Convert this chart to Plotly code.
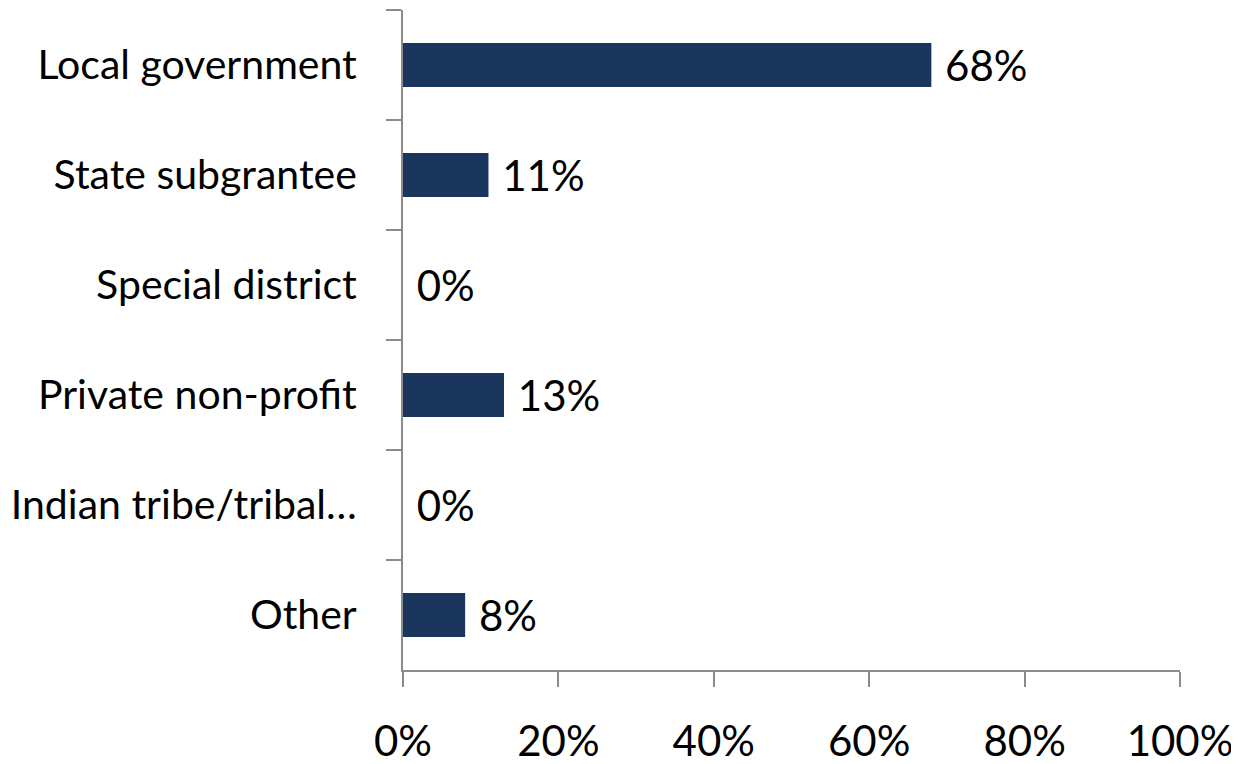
import plotly.graph_objects as go

# data
categories = ["Local government", "State subgrantee", "Special district",
              "Private non-profit", "Indian tribe/tribal…", "Other"]
shares = [68, 11, 0, 13, 0, 8]
x_ticks = [0, 20, 40, 60, 80, 100]
x_tick_labels = ["0%", "20%", "40%", "60%", "80%", "100%"]

bar_color = "#1B365D"
axis_color = "#8C8C8C"
font_family = "Lato, 'Open Sans', sans-serif"

fig = go.Figure()
fig.add_trace(go.Bar(
    y=categories, x=shares, orientation="h",
    marker=dict(color=bar_color, line=dict(width=0)),
    width=0.4,
    text=[f" {v}%" for v in shares],
    textposition="outside", cliponaxis=False, constraintext="none",
    textfont=dict(size=42, color="black", family=font_family),
    showlegend=False,
))

fig.update_xaxes(
    range=[0, 100], tickvals=x_ticks, ticktext=x_tick_labels,
    showgrid=False, zeroline=False, automargin=False,
    showline=True, linecolor=axis_color, linewidth=2,
    ticks="outside", ticklen=15, tickwidth=2, tickcolor=axis_color,
    tickfont=dict(size=42, color="black", family=font_family),
    ticklabelstandoff=19,
)
fig.update_yaxes(
    autorange="reversed", showgrid=False, automargin=False,
    showline=True, linecolor=axis_color, linewidth=2,
    ticks="outside", ticklen=15, tickwidth=2, tickcolor=axis_color,
    tickson="boundaries",
    tickfont=dict(size=41, color="black", family=font_family),
    ticklabelstandoff=36,
)

# the page body adds ~8px of margin, so the plot margins are trimmed to match
fig.update_layout(
    width=1239, height=764,
    margin=dict(l=395, r=67, t=2, b=102),
    plot_bgcolor="white", paper_bgcolor="white",
    bargap=0.6,
)

fig.write_html("out.html")
